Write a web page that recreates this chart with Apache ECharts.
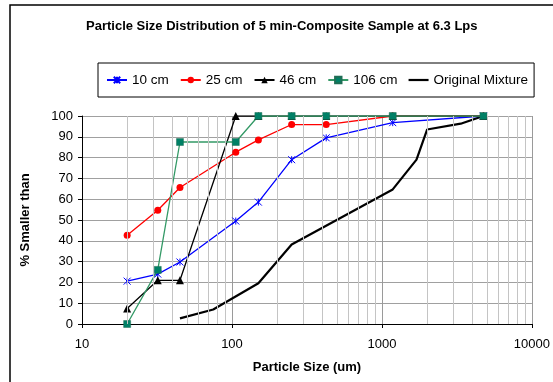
<!DOCTYPE html>
<html>
<head>
<meta charset="utf-8">
<script src="https://cdn.jsdelivr.net/npm/echarts@6/dist/echarts.min.js"></script>
<style>
  html, body { margin: 0; padding: 0; background: #fff; }
  #chart { width: 553px; height: 382px; }
</style>
</head>
<body>
<div id="chart"></div>
<script>
// Sieve sizes (um) used for the four sampling depths
const sieveSizes = [20, 32, 45, 106, 150, 250, 425, 1180, 4750];

// Cumulative % passing for each depth
const pass10cm  = [20.6, 24, 29.8, 49.5, 58.6, 79, 89.5, 96.8, 100];
const pass25cm  = [42.7, 54.7, 65.6, 82.6, 88.5, 95.9, 95.9, 100, 100];
const pass46cm  = [7.5, 21, 21, 100, 100, 100, 100, 100, 100];
const pass106cm = [0, 26, 87.5, 87.5, 100, 100, 100, 100, 100];

// Original mixture gradation
const mixSizes = [45, 75, 150, 250, 1180, 1700, 2000, 3350, 4750];
const mixPass  = [2.7, 7.0, 19.6, 38.2, 64.7, 79, 93.5, 96.3, 100];

const seriesNames = ['10 cm', '25 cm', '46 cm', '106 cm', 'Original Mixture'];
const xTickLabels = ['10', '100', '1000', '10000'];

// Minor log-decade grid positions (2..9 within each decade)
const minorGrid = [];
[10, 100, 1000].forEach(function (d) {
  for (let k = 2; k <= 9; k++) minorGrid.push(d * k);
});

function pairs(xs, ys) {
  return xs.map(function (x, i) { return [x, ys[i]]; });
}

const FONT = 'Liberation Sans, Arial, sans-serif';
const chart = echarts.init(document.getElementById('chart'), null, { renderer: 'canvas' });

// Legend entries; the mixture curve has no markers, so its key is a plain bar
const legendData = seriesNames.map(function (n, i) {
  return i === 4 ? { name: n, icon: 'path://M0,0L20,0L20,2.2L0,2.2Z' } : { name: n };
});

chart.setOption({
  animation: false,
  backgroundColor: '#fff',
  textStyle: { fontFamily: FONT },
  title: {
    text: 'Particle Size Distribution of 5 min-Composite Sample at 6.3 Lps',
    left: 86,
    top: 20,
    padding: 0,
    textStyle: { fontFamily: FONT, fontSize: 13, fontWeight: 'bold', color: '#000' }
  },
  legend: {
    data: legendData,
    left: 98,
    top: 63,
    orient: 'horizontal',
    padding: [10, 6, 10, 8],
    itemGap: 11,
    itemWidth: 20,
    itemHeight: 8,
    borderColor: '#000',
    borderWidth: 1,
    textStyle: { fontFamily: FONT, fontSize: 13.5, color: '#000' }
  },
  graphic: [{
    type: 'rect',
    shape: { x: 10, y: 5, width: 700, height: 500 },
    style: { fill: 'none', stroke: '#000', lineWidth: 1.5 },
    silent: true
  }],
  grid: { left: 82, right: 20, top: 116, bottom: 58 },
  xAxis: {
    type: 'log',
    logBase: 10,
    min: 10,
    max: 10000,
    name: 'Particle Size (um)',
    nameLocation: 'middle',
    nameGap: 37,
    nameTextStyle: { fontFamily: FONT, fontSize: 13, fontWeight: 'bold', color: '#000' },
    axisLine: { show: true, onZero: false, lineStyle: { color: '#000', width: 1 } },
    axisTick: { show: true, inside: false, length: 4, lineStyle: { color: '#000' } },
    axisLabel: {
      color: '#000', fontSize: 13, margin: 14,
      formatter: function (v) {
        const idx = Math.round(Math.log10(v)) - 1;
        return xTickLabels[idx] !== undefined ? xTickLabels[idx] : '';
      }
    },
    splitLine: { show: true, lineStyle: { color: '#9a9a9a', width: 1 } },
    minorTick: { show: false },
    minorSplitLine: { show: false }
  },
  yAxis: {
    type: 'value',
    min: 0,
    max: 100,
    interval: 10,
    name: '% Smaller than',
    nameLocation: 'middle',
    nameGap: 50,
    nameRotate: 90,
    nameTextStyle: { fontFamily: FONT, fontSize: 13, fontWeight: 'bold', color: '#000' },
    axisLine: { show: true, lineStyle: { color: '#000', width: 1 } },
    axisTick: { show: true, inside: false, length: 4, lineStyle: { color: '#000' } },
    axisLabel: { color: '#000', fontSize: 13, margin: 9 },
    splitLine: { show: true, lineStyle: { color: '#a0a0a0', width: 1 } }
  },
  series: [
    {
      name: '_grid',
      type: 'line',
      data: [],
      z: 1,
      silent: true,
      markLine: {
        silent: true,
        symbol: 'none',
        label: { show: false },
        lineStyle: { color: '#c4c4c4', width: 1, type: 'solid' },
        data: minorGrid.map(function (v) { return { xAxis: v }; })
      }
    },
    {
      name: seriesNames[0],
      type: 'line',
      data: pairs(sieveSizes, pass10cm),
      symbol: 'path://M0,0L8,8M8,0L0,8M4,0L4,8',
      symbolSize: 7,
      itemStyle: { color: '#0000ff', borderColor: '#0000ff', borderWidth: 1 },
      lineStyle: { color: '#0000ff', width: 1.3 }
    },
    {
      name: seriesNames[1],
      type: 'line',
      data: pairs(sieveSizes, pass25cm),
      symbol: 'circle',
      symbolSize: 7,
      itemStyle: { color: '#ff0000' },
      lineStyle: { color: '#ff0000', width: 1.3 }
    },
    {
      name: seriesNames[2],
      type: 'line',
      data: pairs(sieveSizes, pass46cm),
      symbol: 'triangle',
      symbolSize: 8,
      itemStyle: { color: '#000' },
      lineStyle: { color: '#000', width: 1.3 }
    },
    {
      name: seriesNames[3],
      type: 'line',
      data: pairs(sieveSizes, pass106cm),
      symbol: 'rect',
      symbolSize: 7,
      itemStyle: { color: '#008066', borderColor: '#1f6e55', borderWidth: 0.5 },
      lineStyle: { color: '#339966', width: 1.3 }
    },
    {
      name: seriesNames[4],
      type: 'line',
      data: pairs(mixSizes, mixPass),
      showSymbol: false,
      symbol: 'none',
      itemStyle: { color: '#000' },
      lineStyle: { color: '#000', width: 2.2 },
      z: 1.5
    }
  ]
});
</script>
</body>
</html>
